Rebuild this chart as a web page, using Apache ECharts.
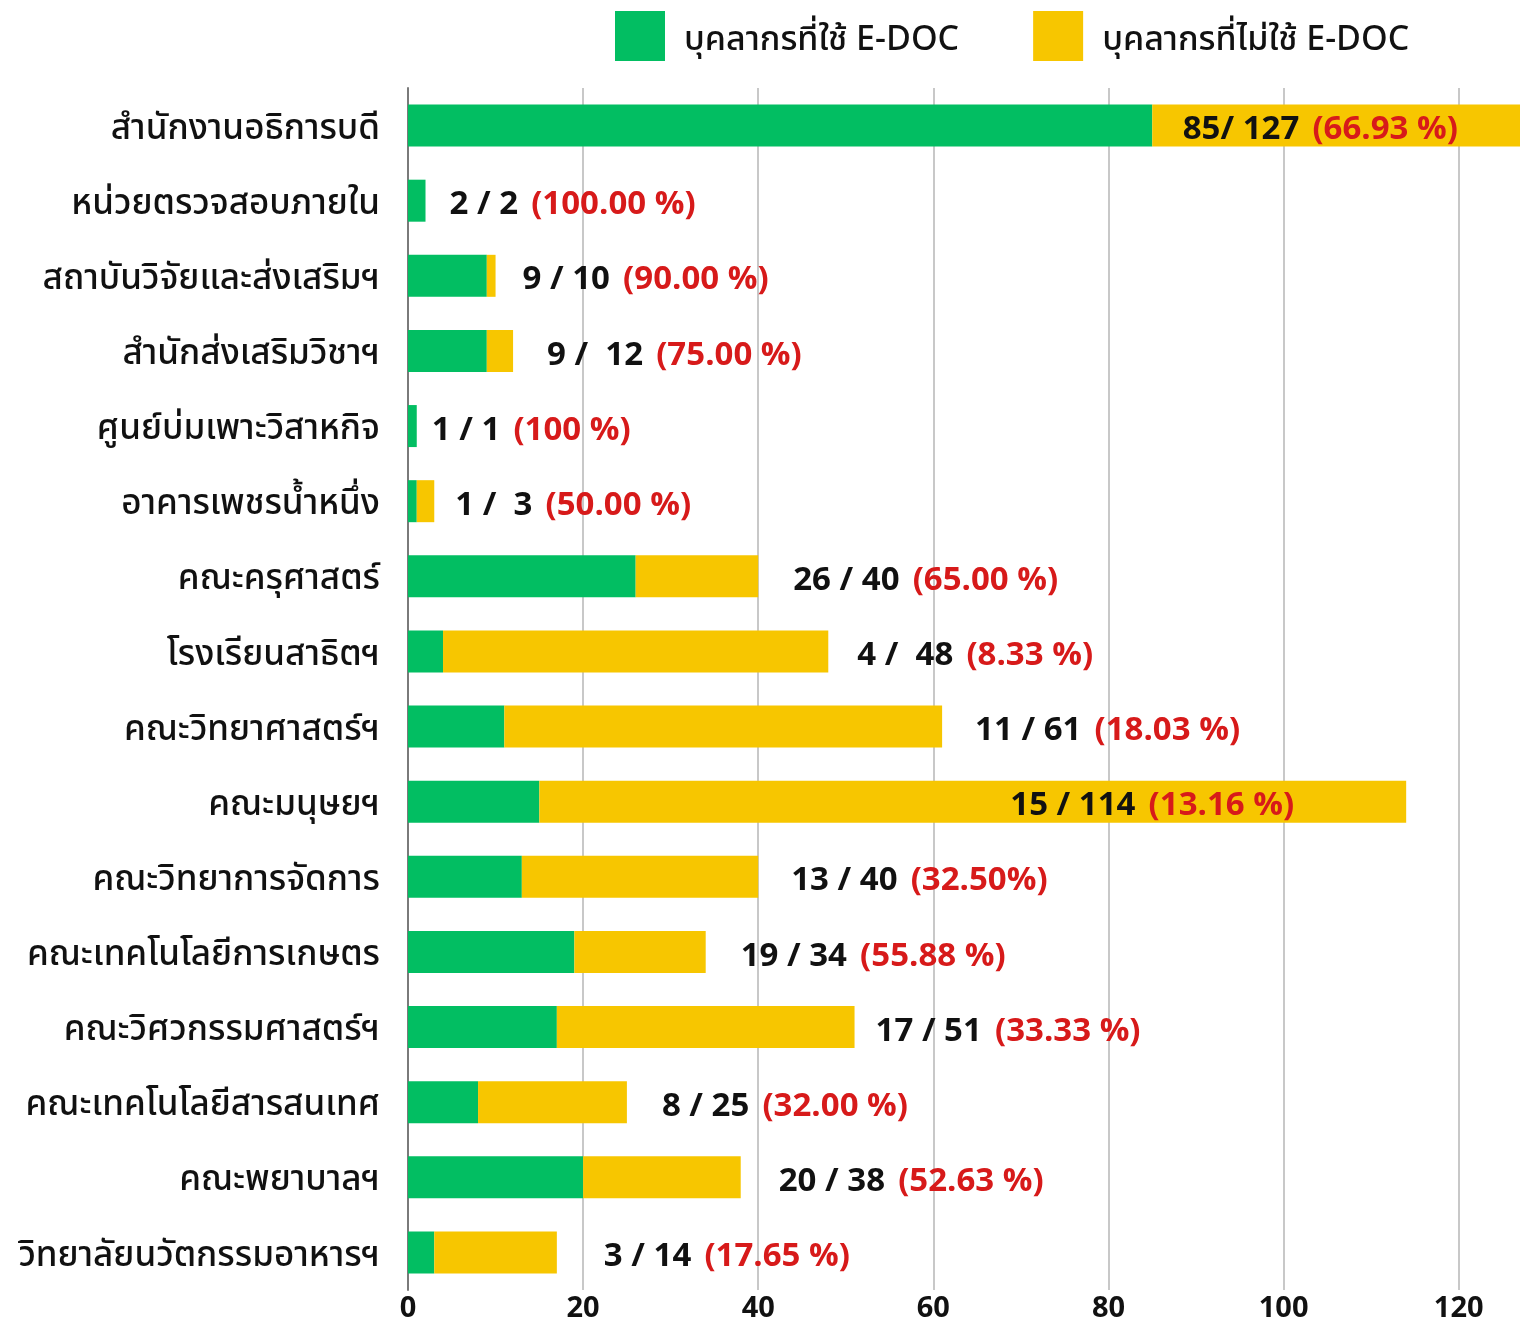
<!DOCTYPE html>
<html>
<head>
<meta charset="utf-8">
<script src="https://cdn.jsdelivr.net/npm/echarts@6/dist/echarts.min.js"></script>
<style>
  html, body { margin: 0; padding: 0; background: #fff; }
  #chart { width: 1530px; height: 1322px; }
</style>
</head>
<body>
<div id="chart"></div>
<script>
var categories = [
  "สำนักงานอธิการบดี", "หน่วยตรวจสอบภายใน", "สถาบันวิจัยและส่งเสริมฯ", "สำนักส่งเสริมวิชาฯ",
  "ศูนย์บ่มเพาะวิสาหกิจ", "อาคารเพชรน้ำหนึ่ง", "คณะครุศาสตร์", "โรงเรียนสาธิตฯ",
  "คณะวิทยาศาสตร์ฯ", "คณะมนุษยฯ", "คณะวิทยาการจัดการ", "คณะเทคโนโลยีการเกษตร",
  "คณะวิศวกรรมศาสตร์ฯ", "คณะเทคโนโลยีสารสนเทศ", "คณะพยาบาลฯ", "วิทยาลัยนวัตกรรมอาหารฯ"
];
var usedDoc = [85, 2, 9, 9, 1, 1, 26, 4, 11, 15, 13, 19, 17, 8, 20, 3];
var notUsedDoc = [42, 0, 1, 3, 0, 2, 14, 44, 50, 99, 27, 15, 34, 17, 18, 14];
var countLabels = [
  "85/ 127", "2 / 2", "9 / 10", "9 /  12", "1 / 1", "1 /  3", "26 / 40", "4 /  48",
  "11 / 61", "15 / 114", "13 / 40", "19 / 34", "17 / 51", "8 / 25", "20 / 38", "3 / 14"
];
var pctLabels = [
  "(66.93 %)", "(100.00 %)", "(90.00 %)", "(75.00 %)", "(100 %)", "(50.00 %)", "(65.00 %)", "(8.33 %)",
  "(18.03 %)", "(13.16 %)", "(32.50%)", "(55.88 %)", "(33.33 %)", "(32.00 %)", "(52.63 %)", "(17.65 %)"
];
var xTicks = [0, 20, 40, 60, 80, 100, 120];

var FONT = "'Noto Sans Thai', 'Noto Sans', sans-serif";

// gap between bar end and its label, per row (two long bars carry it inside)
var labelGap = [62, 24, 27, 34, 15, 21, 35, 29, 33, 112, 33, 35, 21, 35, 38, 47];

var notUsedData = notUsedDoc.map(function (v, i) {
  var item = { value: v, label: { distance: labelGap[i] } };
  if (i === 0 || i === 9) {
    item.label.position = "insideRight";
  }
  return item;
});

var chart = echarts.init(document.getElementById("chart"));
var option = {
  animation: false,
  textStyle: { fontFamily: FONT },
  legend: {
    top: 11,
    left: 615,
    padding: 0,
    itemWidth: 50,
    itemHeight: 50,
    itemGap: 74,
    icon: "rect",
    formatter: function (name) { return "{t|" + name + "}"; },
    textStyle: {
      fontSize: 34, fontWeight: 500, color: "#111", fontFamily: FONT,
      rich: { t: { fontSize: 34, fontWeight: 500, color: "#111", fontFamily: FONT, padding: [14, 0, 0, 14] } }
    },
    data: ["บุคลากรที่ใช้ E-DOC", "บุคลากรที่ไม่ใช้ E-DOC"]
  },
  grid: { left: 408, right: 10, top: 88, bottom: 32, containLabel: false, outerBoundsMode: "none" },
  xAxis: {
    type: "value",
    min: 0,
    max: 127,
    interval: 20,
    axisLine: { show: false },
    axisTick: { show: false },
    axisLabel: {
      showMaxLabel: false,
      margin: 7,
      fontSize: 29,
      fontWeight: "bold",
      color: "#111",
      fontFamily: FONT,
      formatter: function (v) { return xTicks.indexOf(v) >= 0 ? String(v) : ""; }
    },
    splitLine: { show: true, showMinLine: false, showMaxLine: false, lineStyle: { color: "#c8c8c8", width: 2 } }
  },
  yAxis: {
    type: "category",
    inverse: true,
    data: categories,
    axisLine: { show: true, lineStyle: { color: "#7a7a7a", width: 2 } },
    axisTick: { show: false },
    axisLabel: {
      margin: 28,
      formatter: function (v) { return "{t|" + v + "}"; },
      rich: { t: { fontSize: 35, fontWeight: 500, color: "#111", fontFamily: FONT, padding: [12, 0, 0, 0] } }
    }
  },
  series: [
    {
      name: "บุคลากรที่ใช้ E-DOC",
      type: "bar",
      stack: "total",
      barWidth: 42,
      itemStyle: { color: "#02be62" },
      data: usedDoc
    },
    {
      name: "บุคลากรที่ไม่ใช้ E-DOC",
      type: "bar",
      stack: "total",
      barWidth: 42,
      itemStyle: { color: "#f7c600" },
      label: {
        show: true,
        position: "right",
        padding: [14, 0, 0, 0],
        formatter: function (p) {
          return "{a|" + countLabels[p.dataIndex] + "} {b|" + pctLabels[p.dataIndex] + "}";
        },
        rich: {
          a: { fontSize: 33, fontWeight: "bold", color: "#111", fontFamily: FONT },
          b: { fontSize: 33, fontWeight: "bold", color: "#d71a1a", fontFamily: FONT, padding: [0, 0, 0, 10] }
        }
      },
      data: notUsedData
    }
  ]
};
chart.setOption(option);
</script>
</body>
</html>
